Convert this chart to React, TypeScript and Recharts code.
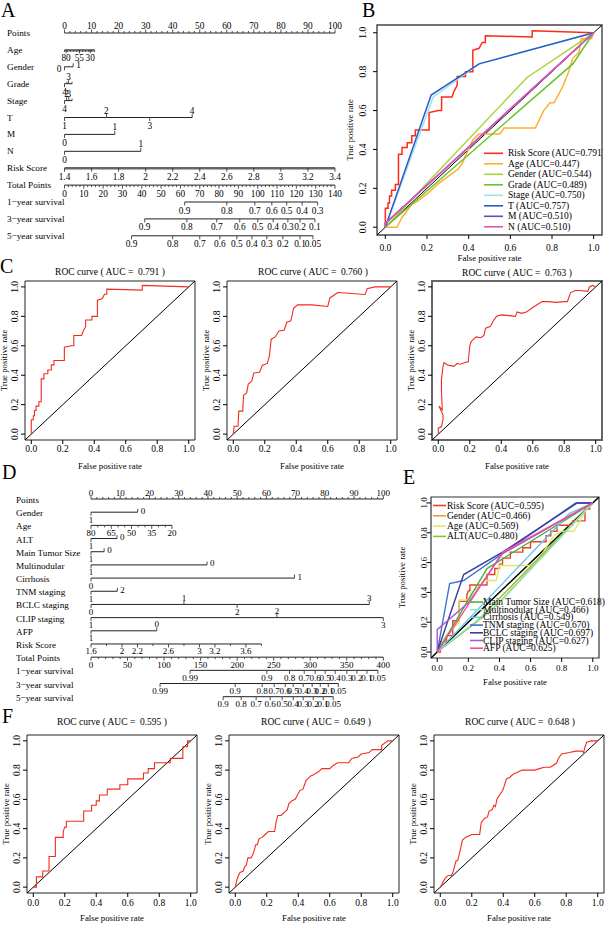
import React from 'react';
import { LineChart, Line, XAxis, YAxis, ReferenceArea, Legend, ScatterChart, Scatter } from 'recharts';

const SERIF = '"Liberation Serif", "Times New Roman", "DejaVu Serif", serif';

type P2 = [number, number];
type Pos = 'a' | 'b' | 'l' | 'r' | 'u' | 'd';
type Tk = [number, string, Pos];

// ================= ROC DATA =================
const ROC_TICKS = [0, 0.2, 0.4, 0.6, 0.8, 1.0];
const ROC_DOMAIN: [number, number] = [-0.04, 1.04];
const DIAGONAL: P2[] = [[-0.04, -0.04], [1.04, 1.04]];

// training cohort, risk score (panel B red, C)
const TRAIN_1Y: P2[] = [[0,0],[0,0.098],[0.013,0.098],[0.013,0.125],[0.02,0.125],[0.02,0.16],[0.03,0.16],[0.03,0.19],[0.048,0.19],[0.048,0.22],[0.063,0.22],[0.063,0.375],[0.08,0.375],[0.08,0.41],[0.105,0.41],[0.105,0.435],[0.127,0.435],[0.127,0.47],[0.144,0.47],[0.144,0.5],[0.21,0.5],[0.21,0.59],[0.255,0.6],[0.27,0.6],[0.27,0.67],[0.32,0.67],[0.33,0.7],[0.345,0.73],[0.345,0.775],[0.385,0.775],[0.385,0.8],[0.42,0.8],[0.42,0.91],[0.45,0.92],[0.465,0.95],[0.48,0.95],[0.48,0.985],[0.705,0.978],[0.705,1.01],[1,1]];
const TRAIN_3Y: P2[] = [[0,0],[0.005,0.053],[0.03,0.053],[0.035,0.156],[0.06,0.156],[0.065,0.264],[0.085,0.28],[0.095,0.34],[0.117,0.36],[0.13,0.415],[0.167,0.42],[0.184,0.466],[0.216,0.48],[0.229,0.53],[0.241,0.645],[0.266,0.66],[0.29,0.7],[0.323,0.706],[0.34,0.76],[0.366,0.77],[0.383,0.855],[0.408,0.878],[0.5,0.878],[0.6,0.867],[0.614,0.925],[0.664,0.962],[0.838,0.948],[0.85,0.988],[0.9,1.0],[1,1]];
const TRAIN_5Y: P2[] = [[0,0],[0,0.04],[0.02,0.05],[0.03,0.1],[0.03,0.13],[0.004,0.19],[0.025,0.165],[0.02,0.3],[0.02,0.37],[0.03,0.46],[0.036,0.485],[0.06,0.47],[0.08,0.465],[0.1,0.46],[0.12,0.48],[0.14,0.475],[0.18,0.49],[0.19,0.49],[0.2,0.6],[0.21,0.63],[0.24,0.66],[0.27,0.655],[0.29,0.67],[0.3,0.72],[0.33,0.73],[0.35,0.77],[0.37,0.8],[0.4,0.81],[0.45,0.805],[0.49,0.8],[0.5,0.83],[0.53,0.82],[0.56,0.83],[0.6,0.86],[0.63,0.88],[0.66,0.9],[0.7,0.9],[0.75,0.895],[0.8,0.9],[0.82,0.9],[0.84,0.96],[0.87,0.975],[0.9,0.975],[0.95,0.97],[0.96,1.0],[0.98,1.01],[1,1]];

// validation cohort, risk score (panel E red, F)
const VALID_1Y: P2[] = [[0,0],[0.02,0],[0.02,0.07],[0.06,0.07],[0.06,0.11],[0.1,0.11],[0.1,0.21],[0.14,0.21],[0.14,0.34],[0.19,0.34],[0.19,0.38],[0.2,0.41],[0.21,0.41],[0.21,0.45],[0.32,0.45],[0.32,0.52],[0.37,0.52],[0.37,0.56],[0.4,0.56],[0.4,0.59],[0.42,0.59],[0.42,0.63],[0.47,0.63],[0.47,0.67],[0.55,0.67],[0.55,0.7],[0.6,0.7],[0.6,0.74],[0.7,0.74],[0.7,0.78],[0.73,0.78],[0.73,0.81],[0.77,0.81],[0.77,0.85],[0.87,0.85],[0.87,0.88],[0.95,0.88],[0.95,0.96],[0.98,0.96],[0.98,1],[1,1]];
const VALID_3Y: P2[] = [[0,0],[0.01,0.05],[0.02,0.08],[0.03,0.1],[0.05,0.11],[0.06,0.14],[0.07,0.15],[0.08,0.2],[0.1,0.2],[0.11,0.22],[0.12,0.25],[0.13,0.29],[0.14,0.29],[0.15,0.33],[0.17,0.34],[0.19,0.36],[0.21,0.38],[0.25,0.38],[0.26,0.45],[0.27,0.49],[0.29,0.49],[0.31,0.51],[0.33,0.53],[0.34,0.57],[0.36,0.59],[0.38,0.6],[0.39,0.62],[0.41,0.66],[0.43,0.67],[0.45,0.73],[0.46,0.74],[0.48,0.76],[0.5,0.77],[0.53,0.79],[0.55,0.81],[0.6,0.81],[0.62,0.83],[0.65,0.85],[0.72,0.85],[0.74,0.88],[0.78,0.89],[0.8,0.91],[0.85,0.92],[0.87,0.94],[0.93,0.94],[0.93,0.97],[0.97,1.0],[1,1]];
const VALID_5Y: P2[] = [[0,0],[0.02,0.04],[0.03,0.06],[0.05,0.08],[0.07,0.08],[0.08,0.1],[0.09,0.14],[0.1,0.18],[0.11,0.18],[0.12,0.22],[0.13,0.27],[0.14,0.32],[0.16,0.34],[0.18,0.35],[0.2,0.36],[0.25,0.36],[0.26,0.44],[0.28,0.47],[0.3,0.48],[0.31,0.52],[0.33,0.53],[0.34,0.56],[0.35,0.55],[0.36,0.6],[0.37,0.62],[0.39,0.65],[0.4,0.67],[0.42,0.74],[0.44,0.75],[0.46,0.77],[0.48,0.78],[0.5,0.79],[0.52,0.8],[0.56,0.8],[0.6,0.8],[0.63,0.81],[0.66,0.82],[0.7,0.82],[0.74,0.85],[0.75,0.88],[0.77,0.91],[0.82,0.92],[0.86,0.93],[0.9,0.93],[0.91,0.92],[0.92,0.96],[0.93,0.99],[0.96,1.0],[1,1]];

// panel B other predictors
const B_AGE: P2[] = [[0,0],[0.056,0],[0.08,0.05],[0.13,0.12],[0.15,0.13],[0.2,0.17],[0.25,0.22],[0.3,0.26],[0.35,0.3],[0.37,0.33],[0.42,0.45],[0.45,0.48],[0.55,0.48],[0.57,0.51],[0.72,0.51],[0.76,0.6],[0.79,0.64],[0.81,0.64],[0.85,0.72],[0.88,0.8],[0.9,0.87],[0.93,0.9],[0.94,0.97],[0.99,0.97],[1,1]];
const B_GENDER: P2[] = [[0,0],[0.68,0.77],[1,1]];
const B_GRADE: P2[] = [[0,0],[0.9,0.84],[1,1]];
const B_STAGE: P2[] = [[0,0],[0.23,0.67],[0.45,0.84],[1,1]];
const B_T: P2[] = [[0,0],[0.22,0.68],[0.45,0.84],[1,1]];
const B_M: P2[] = [[0,0],[0,0.02],[1,1]];
const B_N: P2[] = [[0,0],[0,0.02],[1,1]];

// panel E other predictors
const E_GENDER: P2[] = [[0,0],[0.35,0.28],[1,1]];
const E_AGE: P2[] = [[0,0],[0.05,0.1],[0.14,0.2],[0.14,0.35],[0.2,0.35],[0.22,0.4],[0.28,0.45],[0.3,0.48],[0.38,0.48],[0.4,0.58],[0.6,0.58],[0.65,0.62],[0.7,0.7],[0.75,0.78],[0.8,0.81],[0.88,0.81],[0.9,0.85],[0.93,0.9],[0.95,0.95],[1,1]];
const E_ALT: P2[] = [[0,0],[0.25,0.2],[1,1]];
const E_MTS: P2[] = [[0,0],[0.32,0.56],[1,1]];
const E_MULTI: P2[] = [[0,0],[0.4,0.33],[1,1]];
const E_CIRR: P2[] = [[0,0],[0.85,0.93],[1,1]];
const E_TNM: P2[] = [[0,0],[0.08,0.46],[0.17,0.48],[0.89,1],[1,1]];
const E_BCLC: P2[] = [[0,0],[0.17,0.52],[0.42,0.67],[0.9,1],[1,1]];
const E_CLIP: P2[] = [[0,0],[0,0.15],[0.2,0.33],[0.42,0.66],[1,1]];
const E_AFP: P2[] = [[0,0],[0.42,0.67],[1,1]];

// ================= NOMOGRAM DATA =================
const POINTS_MAJOR = [0, 10, 20, 30, 40, 50, 60, 70, 80, 90, 100];

const A_ROW_NAMES = ['Points', 'Age', 'Gender', 'Grade', 'Stage', 'T', 'M', 'N', 'Risk Score', 'Total Points', '1\u2212year survival', '3\u2212year survival', '5\u2212year survival'];
const A_AGE_LABELS: [number, string][] = [[0.6, '80'], [5.5, '55'], [9.5, '30']];
const A_AGE_LEN = 11.1;
const A_GENDER: Tk[] = [[0, '0', 'l'], [3.2, '1', 'r']];
const A_GRADE: Tk[] = [[0, '4', 'b'], [0.9, '', 'u'], [1.5, '3', 'a'], [2.8, '', 'u']];
const A_STAGE: Tk[] = [[0, '4', 'b'], [0.8, '2', 'a'], [1.6, '3', 'a'], [2.8, '', 'u']];
const A_T: Tk[] = [[0, '1', 'b'], [15.5, '2', 'a'], [31.5, '3', 'b'], [47.2, '4', 'a']];
const A_M: Tk[] = [[0, '0', 'b'], [18.6, '1', 'a']];
const A_N: Tk[] = [[0, '0', 'b'], [28.2, '1', 'a']];
const A_RISK = [1.4, 1.6, 1.8, 2.0, 2.2, 2.4, 2.6, 2.8, 3.0, 3.2, 3.4];
const A_TOTAL = [0, 10, 20, 30, 40, 50, 60, 70, 80, 90, 100, 110, 120, 130, 140];
const A_SURV_1: [number, string][] = [[62.2, '0.9'], [84, '0.8'], [98.5, '0.7'], [107.3, '0.6'], [115, '0.5'], [123, '0.4'], [131, '0.3']];
const A_SURV_3: [number, string][] = [[41.5, '0.9'], [63.3, '0.8'], [78.8, '0.7'], [90.7, '0.6'], [100, '0.5'], [108, '0.4'], [115.6, '0.3'], [121.9, '0.2'], [129.6, '0.1']];
const A_SURV_5: [number, string][] = [[34.7, '0.9'], [56, '0.8'], [70, '0.7'], [80.4, '0.6'], [89.2, '0.5'], [97, '0.4'], [104.7, '0.3'], [113, '0.2'], [121.9, '0.1'], [128.6, '0.05']];

const D_ROW_NAMES = ['Points', 'Gender', 'Age', 'ALT', 'Main Tumor Size', 'Multinodular', 'Cirrhosis', 'TNM staging', 'BCLC staging', 'CLIP staging', 'AFP', 'Risk Score', 'Total Points', '1\u2212year survival', '3\u2212year survival', '5\u2212year survival'];
const D_GENDER: Tk[] = [[0, '1', 'b'], [16, '0', 'r']];
const D_AGE_LABELS = [80, 65, 50, 35, 20];
const D_AGE_MINOR = [75, 70, 60, 55, 45, 40, 30, 25];
const D_AGE_PTS_AT_20 = 27.7;
const D_ALT: Tk[] = [[0, '1', 'b'], [8.9, '0', 'r']];
const D_MTS: Tk[] = [[0, '1', 'b'], [4.5, '0', 'r']];
const D_MULTI: Tk[] = [[0, '1', 'b'], [39.7, '0', 'r']];
const D_CIRR: Tk[] = [[0, '0', 'b'], [69.6, '1', 'r']];
const D_TNM: Tk[] = [[0, '1', 'b'], [9, '2', 'r']];
const D_BCLC: Tk[] = [[0, '0', 'b'], [31.8, '1', 'a'], [50, '2', 'b'], [95.2, '3', 'a']];
const D_CLIP: Tk[] = [[0, '1', 'b'], [63.6, '2', 'a'], [100, '3', 'b']];
const D_AFP: Tk[] = [[0, '1', 'b'], [22.5, '0', 'a']];
const D_RISK_TICKS = [1.6, 1.8, 2.0, 2.2, 2.4, 2.6, 2.8, 3.0, 3.2, 3.4, 3.6, 3.8];
const D_RISK_LABELLED = [1.6, 2.0, 2.2, 2.6, 3.0, 3.2, 3.6];
const D_RISK_PTS_PER_UNIT = 26.5;
const D_TOTAL = [0, 50, 100, 150, 200, 250, 300, 350, 400];
const D_SURV_1: [number, string][] = [[135.6, '0.99'], [240.6, '0.9'], [271.7, '0.8'], [291.8, '0.7'], [306.8, '0.6'], [320.5, '0.5'], [334.2, '0.4'], [350.2, '0.3'], [363.9, '0.2'], [377.6, '0.1'], [392.7, '0.05']];
const D_SURV_3: [number, string][] = [[94.5, '0.99'], [197.3, '0.9'], [234.2, '0.8'], [250.7, '0.7'], [265.8, '0.6'], [276.7, '0.5'], [290.4, '0.4'], [302.7, '0.3'], [313.7, '0.2'], [324.7, '0.1'], [338.4, '0.05']];
const D_SURV_5: [number, string][] = [[180.8, '0.9'], [205.5, '0.8'], [226, '0.7'], [245.2, '0.6'], [261.6, '0.5'], [276.7, '0.4'], [290.4, '0.3'], [304.1, '0.2'], [317.8, '0.1'], [331.5, '0.05']];

// ================= helpers =================
const toXY = (a: P2[]) => a.map(([x, y]) => ({ x, y }));
const numLabel = (v: number) => String(+v.toFixed(2));

function minorTicks(max: number, step: number, skip: number[], dir: Pos): Tk[] {
  const out: Tk[] = [];
  const n = Math.round(max / step);
  for (let i = 0; i <= n; i++) {
    const v = +(i * step).toFixed(4);
    if (!skip.some((s) => Math.abs(s - v) < 1e-6)) out.push([v, '', dir]);
  }
  return out;
}

interface RowDef { ticks: Tk[]; color?: string; w?: number }

const A_ROWS: RowDef[] = [
  { ticks: [...POINTS_MAJOR.map((v) => [v, String(v), 'a'] as Tk), ...minorTicks(100, 2, POINTS_MAJOR, 'u')] },
  { ticks: [...A_AGE_LABELS.map(([v, t]) => [v, t, 'b'] as Tk), ...minorTicks(A_AGE_LEN, A_AGE_LEN / 20, [], 'd')] },
  { ticks: A_GENDER },
  { ticks: A_GRADE },
  { ticks: A_STAGE },
  { ticks: A_T },
  { ticks: A_M },
  { ticks: A_N },
  { ticks: A_RISK.map((v) => [(v - A_RISK[0]) * 100 / (A_RISK[A_RISK.length - 1] - A_RISK[0]), numLabel(v), 'b'] as Tk), color: '#666', w: 2.4 },
  { ticks: [...A_TOTAL.map((v) => [v * 100 / 140, String(v), 'b'] as Tk), ...minorTicks(100, 100 / 70, A_TOTAL.map((v) => +(v * 100 / 140).toFixed(4)), 'd')] },
  { ticks: A_SURV_1.map(([v, t]) => [v * 100 / 140, t, 'b'] as Tk) },
  { ticks: A_SURV_3.map(([v, t]) => [v * 100 / 140, t, 'b'] as Tk) },
  { ticks: A_SURV_5.map(([v, t]) => [v * 100 / 140, t, 'b'] as Tk) },
];

const dAgePts = (age: number) => (D_AGE_LABELS[0] - age) / (D_AGE_LABELS[0] - D_AGE_LABELS[D_AGE_LABELS.length - 1]) * D_AGE_PTS_AT_20;

const D_ROWS: RowDef[] = [
  { ticks: [...POINTS_MAJOR.map((v) => [v, String(v), 'a'] as Tk), ...minorTicks(100, 2, POINTS_MAJOR, 'u')] },
  { ticks: D_GENDER },
  { ticks: [...D_AGE_LABELS.map((a) => [dAgePts(a), String(a), 'b'] as Tk), ...D_AGE_MINOR.map((a) => [dAgePts(a), '', 'd'] as Tk)] },
  { ticks: D_ALT },
  { ticks: D_MTS },
  { ticks: D_MULTI },
  { ticks: D_CIRR },
  { ticks: D_TNM },
  { ticks: D_BCLC },
  { ticks: D_CLIP },
  { ticks: D_AFP },
  { ticks: D_RISK_TICKS.map((v) => [(v - D_RISK_TICKS[0]) * D_RISK_PTS_PER_UNIT, D_RISK_LABELLED.some((l) => Math.abs(l - v) < 1e-6) ? numLabel(v) : '', D_RISK_LABELLED.some((l) => Math.abs(l - v) < 1e-6) ? 'b' : 'd'] as Tk) },
  { ticks: [...D_TOTAL.map((v) => [v / 4, String(v), 'b'] as Tk), ...minorTicks(100, 2.5, D_TOTAL.map((v) => v / 4), 'd')] },
  { ticks: D_SURV_1.map(([v, t]) => [v / 4, t, 'b'] as Tk) },
  { ticks: D_SURV_3.map(([v, t]) => [v / 4, t, 'b'] as Tk) },
  { ticks: D_SURV_5.map(([v, t]) => [v / 4, t, 'b'] as Tk) },
];

// ================= nomogram =================
function NomoMark(props: any) {
  const { cx, cy } = props;
  const d = props.payload || props;
  if (typeof cx !== 'number' || typeof cy !== 'number' || isNaN(cx)) return <g />;
  const p: Pos = d.p;
  const t: string = d.t || '';
  const major = p === 'a' || p === 'b' || p === 'l' || p === 'r';
  const up = p === 'a' || p === 'r' || p === 'u';
  const len = major ? 3.5 : 2;
  let tx = cx;
  let ty = cy;
  let anchor: 'middle' | 'start' | 'end' = 'middle';
  if (p === 'a') ty = cy + props.aOff;
  else if (p === 'b') ty = cy + props.bOff;
  else if (p === 'r') { tx = cx + 3; ty = cy - 1.5; anchor = 'start'; }
  else if (p === 'l') { tx = cx - 3; ty = cy + 2; anchor = 'end'; }
  return (
    <g>
      <line x1={cx} x2={cx} y1={cy} y2={up ? cy - len : cy + len} stroke="#222" strokeWidth={0.8} />
      {t ? (
        <text x={tx} y={ty} textAnchor={anchor} dominantBaseline="central" fontSize={props.fs} fontFamily={SERIF} fill="#000">{t}</text>
      ) : null}
    </g>
  );
}

interface NomoProps {
  left: number; top: number; width: number; height: number;
  plotL: number; plotR: number; y0: number; dy: number;
  names: string[]; rows: RowDef[];
  labelX: number; labelDy: number; fs: number; labelFs: number; aOff: number; bOff: number;
}

function Nomo(p: NomoProps) {
  const n = p.names.length;
  const bottom = p.height - p.y0 - p.dy * (n - 1);
  const rowLabel = (t: any) => (
    <text x={p.labelX} y={t.y + p.labelDy} dominantBaseline="central" fontSize={p.labelFs} fontFamily={SERIF} fill="#000">
      {p.names[t.payload.value]}
    </text>
  );
  return (
    <div style={{ position: 'absolute', left: p.left, top: p.top }}>
      <ScatterChart width={p.width} height={p.height} margin={{ top: p.y0, right: p.width - p.plotR, bottom, left: 0 }}>
        <XAxis type="number" dataKey="x" domain={[0, 100]} hide />
        <YAxis type="number" dataKey="y" domain={[0, n - 1]} reversed width={p.plotL}
          ticks={p.names.map((_, i) => i)} interval={0} axisLine={false} tickLine={false} tick={rowLabel} />
        {p.rows.map((r, i) => {
          const data = r.ticks.map(([v, t, pos]) => ({ x: v, y: i, t, p: pos })).sort((a, b) => a.x - b.x);
          return (
            <Scatter key={i} data={data} fill="none" isAnimationActive={false}
              line={{ stroke: r.color || '#222', strokeWidth: r.w || 1 }}
              shape={(sp: any) => <NomoMark {...sp} aOff={p.aOff} bOff={p.bOff} fs={p.fs} />} />
          );
        })}
      </ScatterChart>
    </div>
  );
}

// ================= ROC =================
interface Series { name: string; color: string; pts: P2[]; w?: number }
interface LegendGroup { names: string[]; y: number; dy: number; x1: number; x2: number; tx: number; fs: number }

function legendContent(groups: LegendGroup[], w: number, h: number) {
  return function LegendContent(props: any) {
    const payload: any[] = props && props.payload ? props.payload : [];
    return (
      <svg width={w} height={h} style={{ display: 'block', overflow: 'hidden', pointerEvents: 'none' }}>
        {groups.map((g, gi) => g.names.map((n, i) => {
          const it = payload.find((q: any) => q.value === n);
          const y = g.y + i * g.dy;
          return (
            <g key={gi + '-' + i}>
              <line x1={g.x1} x2={g.x2} y1={y} y2={y} stroke={it ? it.color : '#000'} strokeWidth={1.6} />
              <text x={g.tx} y={y} dominantBaseline="central" fontSize={g.fs} fontFamily={SERIF} fill="#000">{n}</text>
            </g>
          );
        }))}
      </svg>
    );
  };
}

interface RocProps {
  fl: number; ft: number; fw: number; fh: number; padL: number;
  series: Series[]; fs: number; titleFs: number;
  yTickGap: number; yTitleGap: number; xTickGap: number; xTitleGap: number;
  frameColor?: string; frameW?: number; diagW?: number;
  legend?: LegendGroup[]; legendClipW?: number;
}

function Roc(p: RocProps) {
  const padT = 2, padR = 6, padB = 36;
  const W = p.fw + p.padL + padR;
  const H = p.fh + padT + padB;
  const yTick = (t: any) => {
    const x = p.padL - p.yTickGap;
    return (
      <text x={x} y={t.y} transform={`rotate(-90 ${x} ${t.y})`} textAnchor="middle" fontSize={p.fs} fontFamily={SERIF} fill="#000">
        {Number(t.payload.value).toFixed(1)}
      </text>
    );
  };
  const xTick = (t: any) => (
    <text x={t.x} y={padT + p.fh + p.xTickGap} textAnchor="middle" dominantBaseline="central" fontSize={p.fs} fontFamily={SERIF} fill="#000">
      {Number(t.payload.value).toFixed(1)}
    </text>
  );
  const xTitle = () => (
    <text x={p.padL + p.fw / 2} y={padT + p.fh + p.xTitleGap} textAnchor="middle" dominantBaseline="central" fontSize={p.titleFs} fontFamily={SERIF} fill="#000">
      False positive rate
    </text>
  );
  const yTitle = () => {
    const x = p.padL - p.yTitleGap;
    const y = padT + p.fh / 2;
    return (
      <text x={x} y={y} transform={`rotate(-90 ${x} ${y})`} textAnchor="middle" fontSize={p.titleFs} fontFamily={SERIF} fill="#000">
        True positive rate
      </text>
    );
  };
  return (
    <div style={{ position: 'absolute', left: p.fl - p.padL, top: p.ft - padT }}>
      <LineChart width={W} height={H} margin={{ top: padT, right: padR, bottom: 0, left: 0 }}>
        <XAxis type="number" dataKey="x" domain={ROC_DOMAIN} ticks={ROC_TICKS} interval={0} allowDataOverflow height={padB}
          tickSize={4} tickLine={{ stroke: '#000' }} axisLine={false} tick={xTick} label={{ content: xTitle }} />
        <YAxis type="number" dataKey="y" domain={ROC_DOMAIN} ticks={ROC_TICKS} interval={0} allowDataOverflow width={p.padL}
          tickSize={4} tickLine={{ stroke: '#000' }} axisLine={false} tick={yTick} label={{ content: yTitle }} />
        <ReferenceArea x1={ROC_DOMAIN[0]} x2={ROC_DOMAIN[1]} y1={ROC_DOMAIN[0]} y2={ROC_DOMAIN[1]} fill="none" fillOpacity={0}
          stroke={p.frameColor || '#222'} strokeWidth={p.frameW || 1} ifOverflow="visible" />
        <Line data={toXY(DIAGONAL)} dataKey="y" type="linear" stroke="#000" strokeWidth={p.diagW || 1} dot={false} activeDot={false}
          isAnimationActive={false} legendType="none" />
        {p.series.map((s) => (
          <Line key={s.name} name={s.name} data={toXY(s.pts)} dataKey="y" type="linear" stroke={s.color} strokeWidth={s.w || 1.1}
            dot={false} activeDot={false} isAnimationActive={false} />
        ))}
        {p.legend ? (
          <Legend layout="vertical" align="center" verticalAlign="middle"
            wrapperStyle={{ left: 0, top: 0, width: W, height: H, margin: 0 }}
            content={legendContent(p.legend, p.legendClipW || W, H)} />
        ) : null}
      </LineChart>
    </div>
  );
}

const RED = '#F22B1F';

const B_SERIES: Series[] = [
  { name: 'Risk Score (AUC=0.791)', color: '#FF2A1A', pts: TRAIN_1Y, w: 1.5 },
  { name: 'Age (AUC=0.447)', color: '#FFB02E', pts: B_AGE, w: 1.5 },
  { name: 'Gender (AUC=0.544)', color: '#A8D43C', pts: B_GENDER, w: 1.5 },
  { name: 'Grade (AUC=0.489)', color: '#66C42A', pts: B_GRADE, w: 1.5 },
  { name: 'Stage (AUC=0.750)', color: '#9BE3EC', pts: B_STAGE, w: 1.5 },
  { name: 'T (AUC=0.757)', color: '#2D5BC4', pts: B_T, w: 1.5 },
  { name: 'M (AUC=0.510)', color: '#6C45C2', pts: B_M, w: 1.5 },
  { name: 'N (AUC=0.510)', color: '#E055B8', pts: B_N, w: 1.5 },
];

const E_SERIES: Series[] = [
  { name: 'Risk Score (AUC=0.595)', color: '#F03C2C', pts: VALID_1Y, w: 1.4 },
  { name: 'Gender (AUC=0.466)', color: '#F7963A', pts: E_GENDER, w: 1.4 },
  { name: 'Age (AUC=0.569)', color: '#E6E66A', pts: E_AGE, w: 1.4 },
  { name: 'ALT(AUC=0.480)', color: '#86C92A', pts: E_ALT, w: 1.4 },
  { name: 'Main Tumor Size (AUC=0.618)', color: '#4CB535', pts: E_MTS, w: 1.4 },
  { name: 'Multinodular (AUC=0.466)', color: '#8EE6CC', pts: E_MULTI, w: 1.4 },
  { name: 'Cirrhosis (AUC=0.549)', color: '#6EC6E8', pts: E_CIRR, w: 1.4 },
  { name: 'TNM staging (AUC=0.670)', color: '#3C74CC', pts: E_TNM, w: 1.4 },
  { name: 'BCLC staging (AUC=0.697)', color: '#3B3BA0', pts: E_BCLC, w: 1.4 },
  { name: 'CLIP staging (AUC=0.627)', color: '#A65BD0', pts: E_CLIP, w: 1.4 },
  { name: 'AFP (AUC=0.625)', color: '#F0509C', pts: E_AFP, w: 1.4 },
];

// B chart: frame left 377, padL 40 -> chart left 337, top 23
const B_LEGEND: LegendGroup[] = [
  { names: B_SERIES.map((s) => s.name), y: 130.3, dy: 10.5, x1: 147, x2: 166, tx: 171, fs: 9.5 },
];
// E chart: frame left 431, padL 34 -> chart left 397, top 495
const E_LEGEND: LegendGroup[] = [
  { names: E_SERIES.slice(0, 4).map((s) => s.name), y: 10.5, dy: 10.3, x1: 36, x2: 49, tx: 50, fs: 9.5 },
  { names: E_SERIES.slice(4).map((s) => s.name), y: 107, dy: 7.7, x1: 73, x2: 86, tx: 86, fs: 9.5 },
];

function Letter({ ch, left, top }: { ch: string; left: number; top: number }) {
  return (
    <div style={{ position: 'absolute', left, top, fontSize: 20, lineHeight: '20px', fontFamily: SERIF, color: '#000' }}>{ch}</div>
  );
}

function Title({ cx, cy, text }: { cx: number; cy: number; text: string }) {
  return (
    <div style={{ position: 'absolute', left: cx - 100, top: cy - 6, width: 200, height: 12, lineHeight: '12px', fontSize: 9.5,
      fontFamily: SERIF, textAlign: 'center', whiteSpace: 'pre', color: '#000' }}>{text}</div>
  );
}

const C_COMMON = { fw: 170, fh: 159, padL: 25, fs: 9.5, titleFs: 8.8, yTickGap: 7, yTitleGap: 18, xTickGap: 9, xTitleGap: 26 };
const F_COMMON = { fw: 170, fh: 158, padL: 25, fs: 9.5, titleFs: 8.8, yTickGap: 7, yTitleGap: 18, xTickGap: 10, xTitleGap: 25 };

export default function App() {
  return (
    <div style={{ position: 'absolute', left: 0, top: 0, width: 608, height: 925, background: '#fff', overflow: 'hidden', fontFamily: SERIF }}>
      {/* A */}
      <Letter ch="A" left={1} top={0} />
      <Nomo left={0} top={0} width={345} height={250} plotL={64.5} plotR={335} y0={33} dy={16.9}
        names={A_ROW_NAMES} rows={A_ROWS} labelX={7} labelDy={0} fs={9.3} labelFs={9.2} aOff={-7} bOff={8.5} />

      {/* B */}
      <Letter ch="B" left={362} top={0} />
      <Roc fl={377} ft={25} fw={225} fh={210} padL={40} series={B_SERIES} fs={9.5} titleFs={8.8}
        yTickGap={11} yTitleGap={24} xTickGap={13} xTitleGap={23} frameColor="#444" frameW={1.4}
        legend={B_LEGEND} legendClipW={266} />

      {/* C */}
      <Letter ch="C" left={0} top={256} />
      <Title cx={110} cy={272} text={'ROC curve ( AUC =  0.791 )'} />
      <Title cx={313} cy={272} text={'ROC curve ( AUC =  0.760 )'} />
      <Title cx={517} cy={273} text={'ROC curve ( AUC =  0.763 )'} />
      <Roc fl={25} ft={281} {...C_COMMON} series={[{ name: 'Risk Score', color: RED, pts: TRAIN_1Y }]} />
      <Roc fl={227} ft={281} {...C_COMMON} series={[{ name: 'Risk Score', color: RED, pts: TRAIN_3Y }]} />
      <Roc fl={432} ft={281} {...C_COMMON} frameColor="#666" frameW={2} series={[{ name: 'Risk Score', color: RED, pts: TRAIN_5Y }]} />

      {/* D */}
      <Letter ch="D" left={2} top={461.5} />
      <Nomo left={0} top={480} width={395} height={232} plotL={91} plotR={383.3} y0={19} dy={13.18}
        names={D_ROW_NAMES} rows={D_ROWS} labelX={16} labelDy={1} fs={9} labelFs={9.2} aOff={-6.5} bOff={7.5} />

      {/* E */}
      <Letter ch="E" left={403} top={466.5} />
      <Roc fl={431} ft={497} fw={168} fh={161} padL={34} series={E_SERIES} fs={9} titleFs={8.8}
        yTickGap={4} yTitleGap={26} xTickGap={10} xTitleGap={24} frameColor="#333" frameW={1.2} diagW={1.5}
        legend={E_LEGEND} />

      {/* F */}
      <Letter ch="F" left={2} top={705.5} />
      <Title cx={112} cy={722} text={'ROC curve ( AUC =  0.595 )'} />
      <Title cx={316} cy={722} text={'ROC curve ( AUC =  0.649 )'} />
      <Title cx={520} cy={722} text={'ROC curve ( AUC =  0.648 )'} />
      <Roc fl={27} ft={735} {...F_COMMON} series={[{ name: 'Risk Score', color: RED, pts: VALID_1Y }]} />
      <Roc fl={229} ft={735} {...F_COMMON} series={[{ name: 'Risk Score', color: RED, pts: VALID_3Y }]} />
      <Roc fl={434} ft={735} {...F_COMMON} series={[{ name: 'Risk Score', color: RED, pts: VALID_5Y }]} />
    </div>
  );
}
